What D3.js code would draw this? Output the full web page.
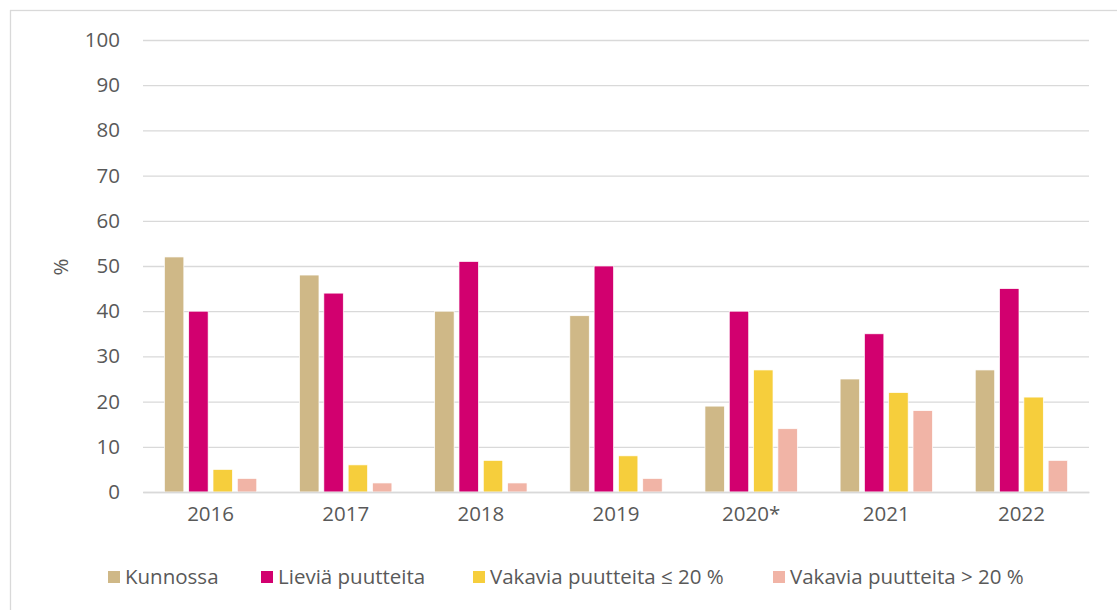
<!DOCTYPE html>
<html>
<head>
<meta charset="utf-8">
<script src="https://cdn.jsdelivr.net/npm/d3@7"></script>
<style>
  html, body { margin: 0; padding: 0; background: #fff; }
  svg text { font-family: "Open Sans", "Noto Sans", sans-serif; fill: #595959; }
</style>
</head>
<body>
<svg id="chart" width="1117" height="610"></svg>
<script>
// data
const years = ["2016", "2017", "2018", "2019", "2020*", "2021", "2022"];
const seriesNames = ["Kunnossa", "Lieviä puutteita", "Vakavia puutteita ≤ 20 %", "Vakavia puutteita > 20 %"];
const seriesColors = ["#CFB887", "#D2006F", "#F6CE3C", "#F1B4A6"];
const kunnossa = [52, 48, 40, 39, 19, 25, 27];
const lievia = [40, 44, 51, 50, 40, 35, 45];
const vakavia20 = [5, 6, 7, 8, 27, 22, 21];
const vakaviaYli20 = [3, 2, 2, 3, 14, 18, 7];
const yTicks = [0, 10, 20, 30, 40, 50, 60, 70, 80, 90, 100];

const values = [kunnossa, lievia, vakavia20, vakaviaYli20];
const rows = years.map((y, i) => ({
  year: y,
  vals: seriesNames.map((s, j) => ({ key: s, value: values[j][i], color: seriesColors[j] }))
}));

const svg = d3.select("#chart");

// frame (Excel chart area border)
svg.append("rect")
  .attr("x", 10.5).attr("y", 10.5)
  .attr("width", 1130).attr("height", 620)
  .attr("fill", "none")
  .attr("stroke", "#D9D9D9")
  .attr("stroke-width", 1.3);

const x0 = d3.scaleBand().domain(years).range([143, 1089]);
const x1 = d3.scaleBand().domain(seriesNames)
  .range([0, x0.bandwidth()])
  .paddingInner(0.2)
  .paddingOuter(0.88);
const y = d3.scaleLinear().domain([0, 100]).range([492, 40]);

// gridlines + y labels
const yAxis = svg.append("g")
  .attr("transform", "translate(143,0)")
  .call(d3.axisLeft(y).tickValues(yTicks).tickSize(0).tickPadding(23))
  .call(g => g.select(".domain").remove());
yAxis.selectAll(".tick line")
  .attr("x2", 1089 - 143)
  .attr("stroke", "#D9D9D9")
  .attr("stroke-width", 1.3);
yAxis.selectAll(".tick text")
  .attr("font-size", 20.5)
  .attr("font-family", null)
  .attr("fill", null);

// "%" title
svg.append("text")
  .attr("transform", "translate(68,267) rotate(-90)")
  .attr("text-anchor", "middle")
  .attr("font-size", 20.5)
  .text("%");

// bars
const groups = svg.append("g").selectAll("g")
  .data(rows)
  .join("g")
  .attr("transform", d => `translate(${x0(d.year)},0)`);

groups.selectAll("rect")
  .data(d => d.vals)
  .join("rect")
  .attr("x", d => x1(d.key))
  .attr("y", d => y(d.value))
  .attr("width", x1.bandwidth())
  .attr("height", d => y(0) - y(d.value))
  .attr("fill", d => d.color)
  .attr("stroke", "#fff")
  .attr("stroke-width", 0.7);

// x axis
const xAxis = svg.append("g")
  .attr("transform", "translate(0,492)")
  .call(d3.axisBottom(x0).tickSize(0).tickPadding(14));
xAxis.select(".domain")
  .attr("stroke", "#D9D9D9")
  .attr("stroke-width", 1.5);
xAxis.selectAll(".tick text")
  .attr("font-size", 20.5)
  .attr("font-family", null)
  .attr("fill", null);

// legend
const legendX = [108, 261, 473, 773];
const legend = svg.append("g").attr("transform", "translate(0,577)");
seriesNames.forEach((name, i) => {
  const item = legend.append("g").attr("transform", `translate(${legendX[i]},0)`);
  item.append("rect")
    .attr("x", 0).attr("y", -6)
    .attr("width", 12).attr("height", 12)
    .attr("fill", seriesColors[i]);
  item.append("text")
    .attr("x", 17)
    .attr("dy", "0.35em")
    .attr("font-size", 20.5)
    .text(name);
});
</script>
</body>
</html>
